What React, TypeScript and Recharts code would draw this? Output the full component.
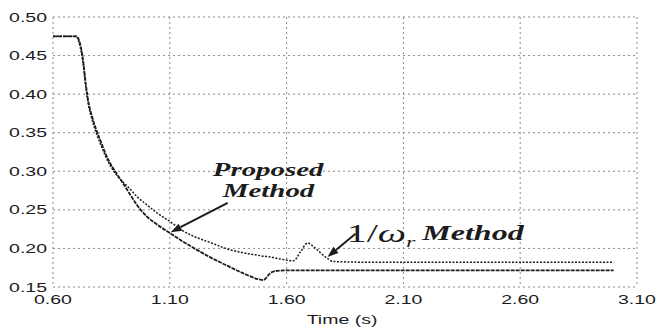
import { LineChart, Line, XAxis, YAxis, CartesianGrid, ReferenceLine, ReferenceDot } from 'recharts';

// time axis (s) shared by both traces
const TIME = [0.60, 0.70, 0.71, 0.72, 0.73, 0.74, 0.75, 0.77, 0.80, 0.84, 0.87, 0.89, 0.93, 0.96, 1.00, 1.05, 1.10, 1.15, 1.20, 1.27, 1.35, 1.42, 1.48, 1.50, 1.53, 1.56, 1.60, 1.63, 1.66, 1.69, 1.72, 1.75, 1.78, 1.80, 2.00, 3.00];
const OMEGA_METHOD = [0.475, 0.475, 0.468, 0.456, 0.437, 0.410, 0.389, 0.364, 0.338, 0.310, 0.296, 0.289, 0.277, 0.267, 0.257, 0.245, 0.235, 0.224, 0.216, 0.208, 0.199, 0.194, 0.191, 0.190, 0.189, 0.187, 0.185, 0.184, 0.196, 0.207, 0.201, 0.193, 0.186, 0.183, 0.182, 0.182];
const PROPOSED = [0.475, 0.475, 0.471, 0.460, 0.441, 0.414, 0.393, 0.368, 0.342, 0.313, 0.298, 0.289, 0.270, 0.256, 0.242, 0.230, 0.220, 0.210, 0.201, 0.189, 0.177, 0.167, 0.160, 0.159, 0.168, 0.171, 0.1715, 0.1715, 0.1715, 0.1715, 0.1715, 0.1715, 0.1715, 0.1715, 0.1715, 0.1715];

const X_TICKS = [0.60, 1.10, 1.60, 2.10, 2.60, 3.10];
const Y_TICKS = [0.15, 0.20, 0.25, 0.30, 0.35, 0.40, 0.45, 0.50];

// annotation anchors in data units
const PROPOSED_LABEL = { t: 1.284, v: 0.294 };
const PROPOSED_LABEL2 = { t: 1.327, v: 0.267 };
const PROPOSED_ARROW = [{ x: 1.348, y: 0.259 }, { x: 1.104, y: 0.221 }];
const OMEGA_LABEL = { t: 1.857, v: 0.208 };
const OMEGA_LABEL2 = { t: 2.181, v: 0.211 };
const OMEGA_ARROW = [{ x: 1.895, y: 0.219 }, { x: 1.775, y: 0.189 }];

const data = TIME.map((t, i) => ({ t, omega: OMEGA_METHOD[i], proposed: PROPOSED[i] }));

const SANS = 'Liberation Sans, Arial, sans-serif';
const SERIF = 'Liberation Serif, Times New Roman, serif';
const INK = '#1c1c1c';

const XTick = ({ x, y, payload }: any) => (
  <g transform={`translate(${x},${y})`}>
    <text transform="scale(1.5,1)" textAnchor="middle" dy="0.71em" fontSize={13} fontFamily={SANS} fill={INK}>
      {Number(payload.value).toFixed(2)}
    </text>
  </g>
);

const YTick = ({ x, y, payload }: any) => (
  <g transform={`translate(${x},${y})`}>
    <text transform="scale(1.5,1)" textAnchor="end" dy="0.35em" fontSize={13} fontFamily={SANS} fill={INK}>
      {Number(payload.value).toFixed(2)}
    </text>
  </g>
);

const AxisTitle = ({ viewBox }: any) => {
  const cx = viewBox.x + viewBox.width / 2 - 3;
  const cy = viewBox.y + viewBox.height - 4;
  return (
    <g transform={`translate(${cx},${cy})`}>
      <text transform="scale(1.5,1)" textAnchor="middle" fontSize={13} fontFamily={SANS} fill={INK}>Time (s)</text>
    </g>
  );
};

const note = (label: string, size: number, sx: number) => (props: any) => (
  <g transform={`translate(${props.cx},${props.cy})`}>
    <text transform={`scale(${sx},1)`} fontSize={size} fontFamily={SERIF} fontWeight="bold" fontStyle="italic" fill={INK}>{label}</text>
  </g>
);

const omegaNote = (props: any) => (
  <g transform={`translate(${props.cx},${props.cy})`}>
    <text transform="scale(1.6,1)" fontFamily={SERIF} fill={INK}>
      <tspan fontSize={25}>1/</tspan>
      <tspan fontSize={25} fontStyle="italic">ω</tspan>
      <tspan fontSize={15} fontStyle="italic" dy={5}>r</tspan>
    </text>
  </g>
);

const arrow = (props: any) => {
  const { x1, y1, x2, y2 } = props;
  const a = Math.atan2(y2 - y1, x2 - x1);
  const len = 11;
  const w = 4;
  const bx = x2 - len * Math.cos(a);
  const by = y2 - len * Math.sin(a);
  const p1 = `${bx + w * Math.sin(a)},${by - w * Math.cos(a)}`;
  const p2 = `${bx - w * Math.sin(a)},${by + w * Math.cos(a)}`;
  return (
    <g>
      <line x1={x1} y1={y1} x2={bx} y2={by} stroke={INK} strokeWidth={2} />
      <polygon points={`${x2},${y2} ${p1} ${p2}`} fill={INK} />
    </g>
  );
};

export default function App() {
  return (
    <div style={{ position: 'absolute', left: 0, top: 0, background: '#fff' }}>
      <LineChart width={657} height={328} data={data} margin={{ top: 17, right: 20, bottom: 0, left: 0 }}>
        <CartesianGrid stroke="#8a8a8a" strokeDasharray="2 3" />
        <XAxis
          dataKey="t"
          type="number"
          domain={[0.6, 3.1]}
          ticks={X_TICKS}
          axisLine={false}
          tickLine={false}
          tickSize={0}
          tickMargin={8}
          height={41}
          tick={<XTick />}
          label={<AxisTitle />}
        />
        <YAxis
          type="number"
          domain={[0.15, 0.5]}
          ticks={Y_TICKS}
          axisLine={false}
          tickLine={false}
          tickSize={0}
          tickMargin={6}
          width={53}
          tick={<YTick />}
        />
        <Line type="monotone" dataKey="omega" stroke={INK} strokeWidth={1.5} strokeDasharray="2 1.5" dot={false} isAnimationActive={false} />
        <Line type="monotone" dataKey="proposed" stroke={INK} strokeWidth={1.8} strokeDasharray="4 1" dot={false} isAnimationActive={false} />
        <ReferenceLine segment={PROPOSED_ARROW} shape={arrow} />
        <ReferenceLine segment={OMEGA_ARROW} shape={arrow} />
        <ReferenceDot x={PROPOSED_LABEL.t} y={PROPOSED_LABEL.v} shape={note('Proposed', 19, 1.52)} />
        <ReferenceDot x={PROPOSED_LABEL2.t} y={PROPOSED_LABEL2.v} shape={note('Method', 19, 1.52)} />
        <ReferenceDot x={OMEGA_LABEL.t} y={OMEGA_LABEL.v} shape={omegaNote} />
        <ReferenceDot x={OMEGA_LABEL2.t} y={OMEGA_LABEL2.v} shape={note('Method', 20, 1.6)} />
      </LineChart>
    </div>
  );
}
